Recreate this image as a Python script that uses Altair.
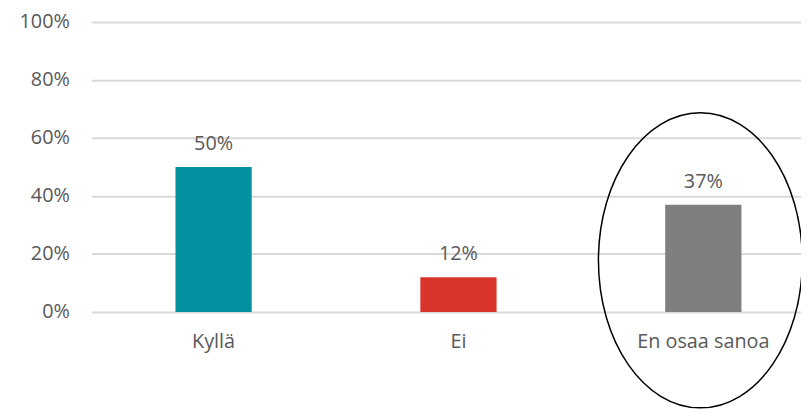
import altair as alt
import pandas as pd

categories = ["Kyllä", "Ei", "En osaa sanoa"]
values = [0.50, 0.12, 0.37]
colors = ["#02919E", "#D9342B", "#7F7F7F"]

df = pd.DataFrame({"cat": categories, "val": values})
df["label"] = [f"{round(v*100)}%" for v in values]

FONT = "Open Sans"
GREY = "#595959"

x_enc = alt.X("cat:N", sort=categories,
              scale=alt.Scale(range=[0, 742], paddingInner=0, paddingOuter=0),
              axis=alt.Axis(title=None, labelAngle=0, domain=False, ticks=False,
                            labelPadding=20, labelFontSize=20, labelFont=FONT,
                            labelColor=GREY, grid=False))
y_enc = alt.Y("val:Q", scale=alt.Scale(domain=[0, 1]),
              axis=alt.Axis(title=None, format=".0%", values=[0, 0.2, 0.4, 0.6, 0.8, 1.0],
                            domain=False, ticks=False, labelPadding=22,
                            labelFontSize=20, labelFont=FONT, labelColor=GREY,
                            gridColor="#D9D9D9", gridWidth=2))

bars = alt.Chart(df).mark_bar(size=77).encode(
    x=x_enc, y=y_enc,
    color=alt.Color("cat:N", scale=alt.Scale(domain=categories, range=colors), legend=None),
)

labels = alt.Chart(df).mark_text(dy=-17, baseline="alphabetic", fontSize=20,
                                 font=FONT, color=GREY).encode(
    x=alt.X("cat:N", sort=categories), y="val:Q", text="label:N")

# annotation ellipse around the last category
ell_df = pd.DataFrame({"cat": ["En osaa sanoa"], "yc": [0.178]})
ellipse_path = "M-0.691,0 A0.691,1 0 1,1 0.691,0 A0.691,1 0 1,1 -0.691,0 Z"
ellipse = alt.Chart(ell_df).mark_point(
    shape=ellipse_path, size=88804, filled=False, stroke="black",
    strokeWidth=1.5, opacity=1, xOffset=-3
).encode(x=alt.X("cat:N", sort=categories), y="yc:Q")

chart = alt.layer(bars, labels, ellipse).properties(
    width=713, height=293,
    autosize=alt.AutoSizeParams(type="none"),
    padding={"left": 84, "top": 12, "right": 4, "bottom": 100},
).configure_view(stroke=None)

chart.save("out.html", embed_options={"renderer": "svg", "actions": False})
